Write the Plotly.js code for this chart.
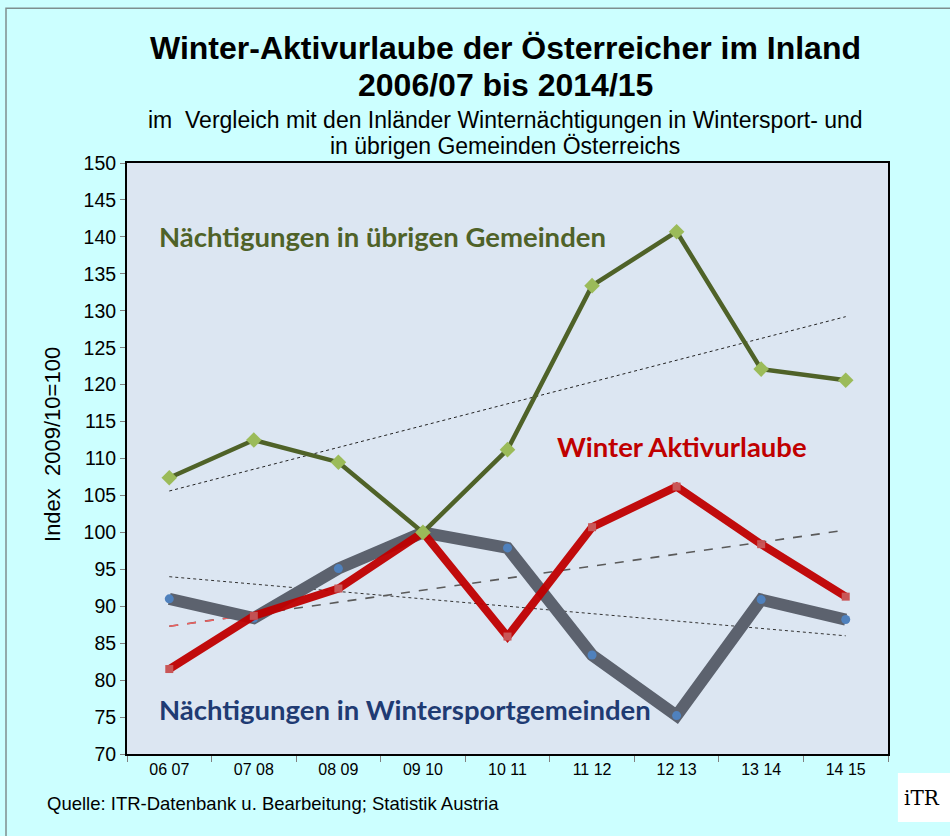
<!DOCTYPE html>
<html>
<head>
<meta charset="utf-8">
<script src="https://cdn.plot.ly/plotly-3.0.1.min.js"></script>
<style>
  body { margin: 0; background: #ffffff; }
  #graph { width: 950px; height: 836px; }
</style>
</head>
<body>
<div id="graph"></div>
<script>
// Wintersaisonen
const seasons = ['06 07', '07 08', '08 09', '09 10', '10 11', '11 12', '12 13', '13 14', '14 15'];

// Index 2009/10 = 100
const uebrigeGemeinden = [107.4, 112.5, 109.5, 100.0, 111.2, 133.4, 140.7, 122.1, 120.6];
const aktivurlaube = [81.5, 88.7, 92.4, 100.0, 85.9, 100.7, 106.2, 98.4, 91.3];
const wintersportGemeinden = [91.0, 88.4, 95.1, 100.0, 97.9, 83.4, 75.2, 90.9, 88.2];

// Trendlinien (Anfangs- und Endwert)
const trendSeasons = ['06 07', '14 15'];
const trendUebrige = [105.6, 129.2];
const trendAktiv = [87.3, 100.3];
const trendAktivStart = ['06 07', '07 08'];
const trendAktivStartVals = [87.3, 88.9];
const trendWintersport = [94.0, 86.0];

const font = 'Liberation Sans, Arial, sans-serif';
const labelFont = 'Lato, Open Sans, sans-serif';

const traces = [
    {
        x: trendSeasons, y: trendWintersport, mode: 'lines', type: 'scatter',
        line: { color: '#333333', width: 1, dash: 'dot' }, hoverinfo: 'skip'
    },
    {
        x: trendSeasons, y: trendAktiv, mode: 'lines', type: 'scatter',
        line: { color: '#5a5a5a', width: 1.6, dash: 'dash' }, hoverinfo: 'skip'
    },
    {
        x: trendAktivStart, y: trendAktivStartVals, mode: 'lines', type: 'scatter',
        line: { color: '#f06060', width: 1.6, dash: 'dash' }, hoverinfo: 'skip'
    },
    {
        x: trendSeasons, y: trendUebrige, mode: 'lines', type: 'scatter',
        line: { color: '#222222', width: 1, dash: 'dot' }, hoverinfo: 'skip'
    },
    {
        x: seasons, y: wintersportGemeinden, mode: 'lines+markers', type: 'scatter',
        name: 'Nächtigungen in Wintersportgemeinden',
        line: { color: '#5c626e', width: 12 },
        marker: { symbol: 'circle', size: 9, color: '#4f81bd' }
    },
    {
        x: seasons, y: aktivurlaube, mode: 'lines+markers', type: 'scatter',
        name: 'Winter Aktivurlaube', opacity: 0.95,
        line: { color: '#c00000', width: 8 },
        marker: { symbol: 'square', size: 8, color: '#c94f4f' }
    },
    {
        x: seasons, y: uebrigeGemeinden, mode: 'lines+markers', type: 'scatter',
        name: 'Nächtigungen in übrigen Gemeinden',
        line: { color: '#4f6228', width: 4.5 },
        marker: { symbol: 'diamond', size: 12, color: '#9bbb59' }
    }
];

const layout = {
    width: 950,
    height: 836,
    showlegend: false,
    paper_bgcolor: '#ccffff',
    plot_bgcolor: '#dce6f2',
    margin: { l: 127, r: 62, t: 163, b: 82 },
    font: { family: font, color: '#000000' },
    xaxis: {
        type: 'category',
        categoryorder: 'array',
        categoryarray: seasons,
        range: [-0.5, 8.5],
        showgrid: false,
        showline: true, mirror: true, linecolor: '#000000', linewidth: 2,
        ticks: 'outside', tickson: 'boundaries', ticklen: 6, tickcolor: '#808080',
        tickfont: { size: 16, family: font, color: '#000000' },
        zeroline: false
    },
    yaxis: {
        range: [70, 150],
        dtick: 5,
        showgrid: false,
        showline: true, mirror: true, linecolor: '#000000', linewidth: 2,
        ticks: 'outside', ticklen: 5, tickcolor: '#808080',
        tickfont: { size: 19.5, family: font, color: '#000000' },
        zeroline: false
    },
    shapes: [
        {
            type: 'rect', xref: 'paper', yref: 'paper',
            x0: -0.159, x1: 1.2, y0: -0.3, y1: 1.262,
            line: { color: '#7f8f8f', width: 1.5 }, layer: 'below'
        },
        {
            type: 'rect', xref: 'paper', yref: 'paper',
            x0: 1.013, x1: 1.09, y0: -0.115, y1: -0.032,
            fillcolor: '#ffffff', line: { width: 0 }
        }
    ],
    annotations: [
        {
            text: '<b>Winter-Aktivurlaube der Österreicher im Inland</b>',
            xref: 'paper', yref: 'paper', x: 0.497, y: 1.1946,
            xanchor: 'center', yanchor: 'middle', showarrow: false,
            font: { size: 32, family: font, color: '#000000' }
        },
        {
            text: '<b>2006/07 bis 2014/15</b>',
            xref: 'paper', yref: 'paper', x: 0.497, y: 1.132,
            xanchor: 'center', yanchor: 'middle', showarrow: false,
            font: { size: 32, family: font, color: '#000000' }
        },
        {
            text: 'im  Vergleich mit den Inländer Winternächtigungen in Wintersport- und',
            xref: 'paper', yref: 'paper', x: 0.497, y: 1.0725,
            xanchor: 'center', yanchor: 'middle', showarrow: false,
            font: { size: 23, family: font, color: '#000000' }
        },
        {
            text: 'in übrigen Gemeinden Österreichs',
            xref: 'paper', yref: 'paper', x: 0.497, y: 1.028,
            xanchor: 'center', yanchor: 'middle', showarrow: false,
            font: { size: 23, family: font, color: '#000000' }
        },
        {
            text: 'Index  2009/10=100',
            xref: 'paper', yref: 'paper', x: -0.0986, y: 0.5245,
            xanchor: 'center', yanchor: 'middle', textangle: -90, showarrow: false,
            font: { size: 22, family: font, color: '#000000' }
        },
        {
            text: '<b>Nächtigungen in übrigen Gemeinden</b>',
            xref: 'paper', yref: 'paper', x: 0.0394, y: 0.876,
            xanchor: 'left', yanchor: 'middle', showarrow: false,
            font: { size: 27.5, family: labelFont, color: '#4f6228' }
        },
        {
            text: '<b>Winter Aktivurlaube</b>',
            xref: 'paper', yref: 'paper', x: 0.562, y: 0.5195,
            xanchor: 'left', yanchor: 'middle', showarrow: false,
            font: { size: 27.5, family: labelFont, color: '#c00000' }
        },
        {
            text: '<b>Nächtigungen in Wintersportgemeinden</b>',
            xref: 'paper', yref: 'paper', x: 0.0394, y: 0.0745,
            xanchor: 'left', yanchor: 'middle', showarrow: false,
            font: { size: 27.5, family: labelFont, color: '#1f3b73' }
        },
        {
            text: 'Quelle: ITR-Datenbank u. Bearbeitung; Statistik Austria',
            xref: 'paper', yref: 'paper', x: -0.1078, y: -0.0846,
            xanchor: 'left', yanchor: 'middle', showarrow: false,
            font: { size: 18.5, family: font, color: '#000000' }
        },
        {
            text: 'iTR',
            xref: 'paper', yref: 'paper', x: 1.045, y: -0.074,
            xanchor: 'center', yanchor: 'middle', showarrow: false,
            font: { size: 20, family: 'DejaVu Serif, serif', color: '#000000' }
        }
    ]
};

Plotly.newPlot('graph', traces, layout, { displayModeBar: false });
</script>
</body>
</html>
